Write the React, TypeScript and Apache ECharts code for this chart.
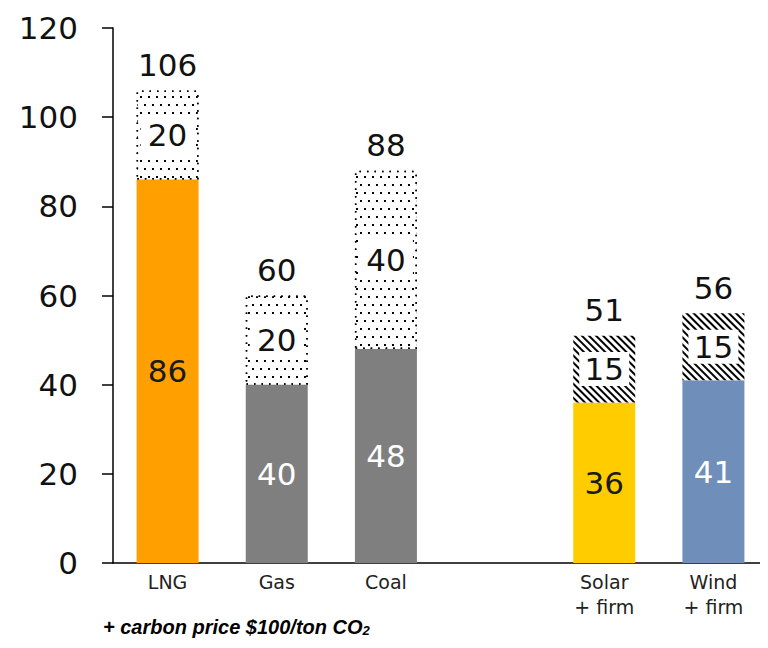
import React, { useEffect, useRef } from "react";
import * as echarts from "echarts";

const categories = ["LNG", "Gas", "Coal", "", "Solar\n+ firm", "Wind\n+ firm"];
const baseValues: (number | null)[] = [86, 40, 48, null, 36, 41];
const carbonValues: (number | null)[] = [20, 20, 40, null, 15, 15];
const baseColors = ["#FF9F00", "#7F7F7F", "#7F7F7F", "#FFFFFF", "#FFCC00", "#6F8EB9"];
const baseLabelColors = ["#1a1a1a", "#ffffff", "#ffffff", "#ffffff", "#1a1a1a", "#ffffff"];
const patternKinds = ["dots", "dots", "dots", "none", "hatch", "hatch"];
const yTicks = [0, 20, 40, 60, 80, 100, 120];
const footnote = "+ carbon price $100/ton CO";

const FONT = "DejaVu Sans";

const dotDecal = {
  symbol: "rect",
  symbolSize: 1,
  color: "#000000",
  backgroundColor: "#ffffff",
  dashArrayX: [[2, 6], [0, 4, 2, 2]],
  dashArrayY: [2, 6],
  rotation: 0,
};

const hatchDecal = {
  symbol: "rect",
  symbolSize: 1,
  color: "#000000",
  backgroundColor: "#ffffff",
  dashArrayX: [1, 0],
  dashArrayY: [2, 2.5],
  rotation: Math.PI / 4,
};

export default function App() {
  const ref = useRef<HTMLDivElement>(null);
  useEffect(() => {
    if (!ref.current) return;
    const chart = echarts.init(ref.current, null, { renderer: "svg" });
    const totals = baseValues.map((b, i) =>
      b == null || carbonValues[i] == null ? null : (b as number) + (carbonValues[i] as number)
    );

    const baseData = baseValues.map((v, i) =>
      v == null
        ? "-"
        : {
            value: v,
            itemStyle: { color: baseColors[i] },
            label: { color: baseLabelColors[i] },
          }
    );

    const carbonData = carbonValues.map((v, i) => {
      if (v == null) return "-";
      const dots = patternKinds[i] === "dots";
      return {
        value: v,
        itemStyle: {
          color: "#ffffff",
          decal: dots ? dotDecal : hatchDecal,
          borderColor: dots ? "#000000" : "transparent",
          borderWidth: dots ? 1.5 : 0,
          borderType: dots ? [1.5, 6] : "solid",
        },
        label: {
          backgroundColor: "#ffffff",
          width: dots ? 54 : 50,
          height: dots ? 40 : 34,
          lineHeight: dots ? 40 : 34,
          align: "center",
        },
      };
    });

    const totalData = totals.map((t) => (t == null ? "-" : 0));

    chart.setOption({
      animation: false,
      grid: { left: 113, top: 28, width: 660, bottom: 85, containLabel: false },
      xAxis: {
        type: "category",
        data: categories,
        axisLine: { show: true, lineStyle: { color: "#000", width: 1.5 } },
        axisTick: { show: false },
        axisLabel: {
          color: "#222",
          fontFamily: FONT,
          fontSize: 19,
          lineHeight: 25,
          margin: 6,
          interval: 0,
        },
      },
      yAxis: {
        type: "value",
        min: 0,
        max: 120,
        interval: 20,
        splitLine: { show: false },
        axisLine: { show: true, lineStyle: { color: "#000", width: 1.5 } },
        axisTick: { show: true, length: 11, lineStyle: { color: "#000", width: 1.5 } },
        axisLabel: {
          color: "#111",
          fontFamily: FONT,
          fontSize: 31,
          margin: 35,
          formatter: (v: number) => (yTicks.includes(v) ? String(v) : ""),
        },
      },
      series: [
        {
          name: "Base",
          type: "bar",
          stack: "s",
          barWidth: 62,
          data: baseData,
          label: {
            show: true,
            position: "inside",
            fontFamily: FONT,
            fontSize: 31,
          },
        },
        {
          name: "Carbon",
          type: "bar",
          stack: "s",
          barWidth: 62,
          data: carbonData,
          label: {
            show: true,
            position: "inside",
            fontFamily: FONT,
            fontSize: 31,
            color: "#111",
          },
        },
        {
          name: "Total",
          type: "bar",
          stack: "s",
          barWidth: 62,
          data: totalData,
          itemStyle: { color: "transparent" },
          label: {
            show: true,
            position: "top",
            distance: 10,
            fontFamily: FONT,
            fontSize: 31,
            color: "#111",
            formatter: (p: any) => (totals[p.dataIndex] == null ? "" : String(totals[p.dataIndex])),
          },
        },
      ],
      graphic: [
        {
          type: "text",
          left: 103,
          top: 617,
          style: {
            text: "{a|" + footnote + "}{s|2}",
            rich: {
              a: {
                fontFamily: "Liberation Sans",
                fontWeight: "bold",
                fontStyle: "italic",
                fontSize: 20,
                fill: "#000",
                lineHeight: 24,
                verticalAlign: "bottom",
              },
              s: {
                fontFamily: "Liberation Sans",
                fontWeight: "bold",
                fontStyle: "italic",
                fontSize: 13,
                fill: "#000",
                lineHeight: 8,
                verticalAlign: "bottom",
              },
            },
          },
        },
      ],
    });
    return () => chart.dispose();
  }, []);
  return <div ref={ref} style={{ width: 768, height: 648, margin: -8 }} />;
}
